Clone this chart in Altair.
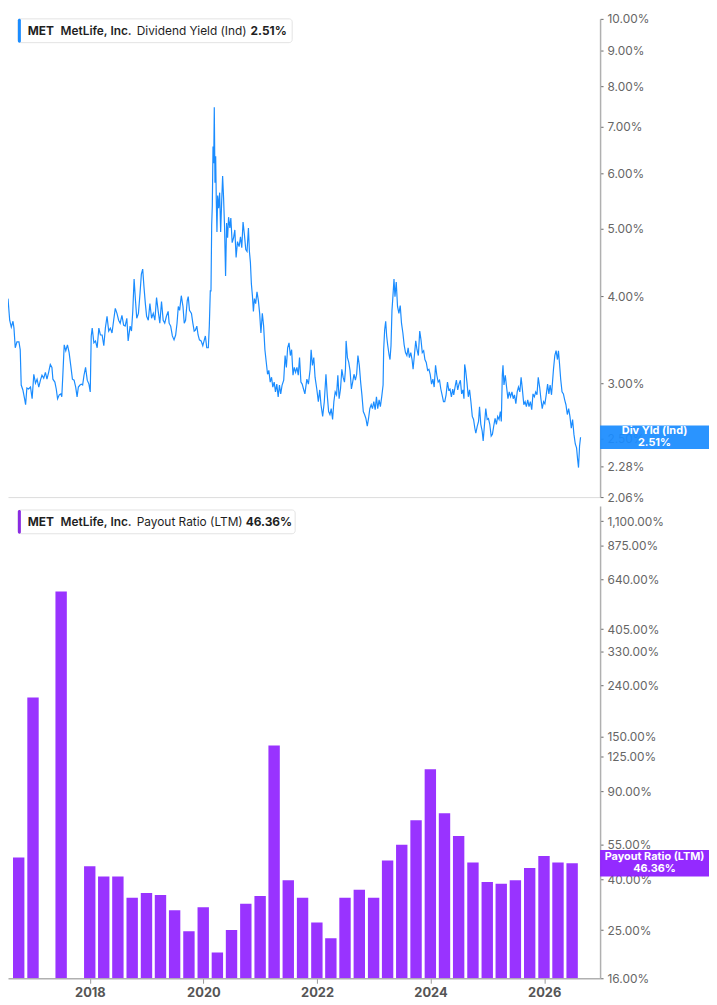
import altair as alt
import pandas as pd

# ---- Dividend Yield (Ind), % : decimal year / value ----
div_years = [
    2016.645, 2016.674, 2016.702, 2016.731, 2016.748, 2016.770, 2016.799, 2016.834, 2016.856, 2016.873,
    2016.902, 2016.931, 2016.949, 2016.971, 2017.000, 2017.034, 2017.062, 2017.091, 2017.120, 2017.148,
    2017.177, 2017.206, 2017.233, 2017.263, 2017.292, 2017.319, 2017.348, 2017.377, 2017.405, 2017.422,
    2017.456, 2017.480, 2017.503, 2017.532, 2017.559, 2017.576, 2017.594, 2017.618, 2017.645, 2017.674,
    2017.703, 2017.731, 2017.760, 2017.789, 2017.817, 2017.841, 2017.863, 2017.892, 2017.914, 2017.937,
    2017.961, 2017.988, 2018.017, 2018.046, 2018.069, 2018.086, 2018.103, 2018.132, 2018.160, 2018.189,
    2018.218, 2018.245, 2018.275, 2018.304, 2018.331, 2018.360, 2018.389, 2018.417, 2018.446, 2018.475,
    2018.503, 2018.532, 2018.561, 2018.588, 2018.618, 2018.647, 2018.674, 2018.703, 2018.726, 2018.760,
    2018.784, 2018.806, 2018.829, 2018.853, 2018.875, 2018.904, 2018.931, 2018.955, 2018.978, 2019.000,
    2019.024, 2019.046, 2019.075, 2019.103, 2019.132, 2019.161, 2019.189, 2019.218,
    2019.247, 2019.275, 2019.304, 2019.333, 2019.360, 2019.389, 2019.419, 2019.436, 2019.463, 2019.492,
    2019.521, 2019.549, 2019.573, 2019.595, 2019.618, 2019.647, 2019.676, 2019.698, 2019.721, 2019.750,
    2019.767, 2019.789, 2019.823, 2019.847, 2019.870, 2019.892, 2019.916, 2019.938, 2019.961, 2019.990,
    2020.019, 2020.046, 2020.064, 2020.088, 2020.115, 2020.132, 2020.149, 2020.161, 2020.173, 2020.184,
    2020.196, 2020.208, 2020.218, 2020.230, 2020.242, 2020.252, 2020.264, 2020.276, 2020.293, 2020.311,
    2020.328, 2020.345, 2020.362, 2020.379, 2020.396, 2020.413, 2020.431, 2020.448, 2020.465, 2020.487,
    2020.504, 2020.527, 2020.551, 2020.573, 2020.595, 2020.619, 2020.647, 2020.671, 2020.693, 2020.715,
    2020.739, 2020.762, 2020.784, 2020.808, 2020.825, 2020.842, 2020.859, 2020.877, 2020.894, 2020.911,
    2020.933, 2020.956, 2020.980, 2021.002, 2021.024, 2021.048, 2021.071, 2021.093, 2021.117, 2021.139,
    2021.161, 2021.185, 2021.208, 2021.230, 2021.254, 2021.276, 2021.299, 2021.323, 2021.345, 2021.367,
    2021.391, 2021.419, 2021.443, 2021.465, 2021.487, 2021.511, 2021.534, 2021.556, 2021.580, 2021.602,
    2021.625, 2021.648, 2021.671, 2021.693, 2021.717, 2021.739, 2021.762, 2021.786,
    2021.820, 2021.847, 2021.877, 2021.894, 2021.916, 2021.940, 2021.962, 2021.992, 2022.019, 2022.043,
    2022.065, 2022.094, 2022.122, 2022.151, 2022.173, 2022.197, 2022.220, 2022.242, 2022.266, 2022.288,
    2022.311, 2022.335, 2022.357, 2022.379, 2022.403, 2022.426, 2022.448, 2022.472, 2022.489, 2022.500,
    2022.523, 2022.546, 2022.568, 2022.592, 2022.614, 2022.637, 2022.661, 2022.683, 2022.705, 2022.729,
    2022.752, 2022.774, 2022.798, 2022.820, 2022.843, 2022.867, 2022.889, 2022.911, 2022.935, 2022.957,
    2022.980, 2023.004, 2023.026, 2023.048, 2023.072, 2023.094, 2023.117, 2023.141, 2023.151, 2023.168,
    2023.186, 2023.203, 2023.220, 2023.244, 2023.261, 2023.278, 2023.295, 2023.312, 2023.330, 2023.347,
    2023.369, 2023.391, 2023.415, 2023.438, 2023.460, 2023.484, 2023.506, 2023.529, 2023.553, 2023.575,
    2023.597, 2023.621, 2023.643, 2023.661, 2023.683, 2023.707, 2023.729, 2023.752, 2023.776, 2023.798,
    2023.820, 2023.844, 2023.866, 2023.889, 2023.913, 2023.935, 2023.957, 2023.981, 2024.004, 2024.026,
    2024.050, 2024.072, 2024.095, 2024.119, 2024.141, 2024.163, 2024.187, 2024.209, 2024.232, 2024.256,
    2024.278, 2024.300, 2024.324, 2024.347,
    2024.364, 2024.393, 2024.410, 2024.433, 2024.455, 2024.479, 2024.501, 2024.523, 2024.541, 2024.553,
    2024.570, 2024.592, 2024.616, 2024.638, 2024.661, 2024.685, 2024.707, 2024.729, 2024.746, 2024.770,
    2024.793, 2024.810, 2024.832, 2024.856, 2024.873, 2024.896, 2024.918, 2024.942, 2024.964, 2024.987,
    2025.011, 2025.033, 2025.055, 2025.079, 2025.102, 2025.124, 2025.148, 2025.170, 2025.187, 2025.204,
    2025.216, 2025.233, 2025.256, 2025.278, 2025.302, 2025.324, 2025.347, 2025.371, 2025.393, 2025.415,
    2025.439, 2025.462, 2025.484, 2025.508, 2025.530, 2025.553, 2025.577, 2025.599, 2025.621, 2025.645,
    2025.667, 2025.690, 2025.714, 2025.736, 2025.759, 2025.783, 2025.805, 2025.827, 2025.851, 2025.873,
    2025.896, 2025.920, 2025.942, 2025.965, 2025.989, 2026.011, 2026.033, 2026.057, 2026.074, 2026.091,
    2026.114, 2026.136, 2026.160, 2026.177, 2026.194, 2026.216, 2026.239, 2026.263, 2026.285, 2026.307,
    2026.331, 2026.354, 2026.376, 2026.400, 2026.422, 2026.445, 2026.469, 2026.491, 2026.508, 2026.525,
    2026.543, 2026.560,
]
div_yield = [
    3.968, 3.695, 3.612, 3.683, 3.600, 3.374, 3.440, 3.440, 3.352, 2.983,
    2.935, 2.851, 2.795, 2.954, 2.944, 2.963, 2.851, 3.091, 3.002, 3.041,
    2.963, 3.031, 3.081, 3.051, 3.111, 3.041, 3.111, 3.193, 3.162, 3.041,
    3.012, 2.944, 2.851, 2.888, 2.897, 2.869, 3.081, 3.407, 3.341, 3.407,
    3.320, 3.183, 3.041, 3.031, 2.963, 2.869, 2.963, 2.983, 2.992, 2.983,
    3.081, 3.162, 3.031, 2.992, 2.916, 3.508, 3.600, 3.429, 3.451, 3.374,
    3.600, 3.519, 3.519, 3.396, 3.600, 3.744, 3.565, 3.600, 3.542, 3.695,
    3.842, 3.780, 3.695, 3.659, 3.756, 3.636, 3.624, 3.719, 3.451, 3.624,
    3.565, 3.805, 4.234, 3.943, 3.719, 3.780, 4.033, 4.303, 4.374, 4.126,
    3.904, 3.744, 3.695, 3.904, 3.719, 3.780, 3.695, 3.981,
    3.805, 3.659, 3.930, 3.695, 3.659, 3.744, 3.805, 3.659, 3.624, 3.508,
    3.463, 3.519, 3.659, 3.867, 3.817, 4.007, 3.867, 3.659, 3.695, 3.943,
    3.994, 3.817, 3.780, 3.659, 3.565, 3.577, 3.624, 3.519, 3.463, 3.451,
    3.396, 3.463, 3.508, 3.374, 3.374, 3.624, 4.072, 4.072, 5.061, 5.400,
    6.559, 6.208, 7.468, 5.818, 6.350, 5.524, 4.947, 5.578, 5.348, 5.632,
    4.947, 5.453, 5.951, 5.524, 5.012, 4.275, 5.094, 4.852, 5.194, 5.012,
    5.177, 4.774, 4.852, 4.979, 4.548, 4.790, 4.712, 4.868, 4.697, 5.111,
    4.899, 4.667, 4.637, 5.012, 4.637, 4.474, 4.166, 4.007, 3.805, 3.968,
    3.904, 4.059, 3.943, 3.780, 3.542, 3.780, 3.624, 3.352, 3.214, 3.091,
    3.131, 3.012, 3.061, 2.963, 3.012, 2.916, 2.992, 2.869, 2.983, 2.897,
    2.983, 3.031, 3.288, 3.162, 3.374, 3.429, 3.288, 3.352, 3.081, 3.162,
    3.111, 3.162, 3.081, 3.266, 3.012, 2.992, 2.944, 2.897,
    3.041, 2.992, 3.142, 3.352, 3.183, 3.266, 3.061, 2.944, 2.823, 2.935,
    2.795, 2.689, 2.823, 3.091, 2.888, 2.733, 2.706, 2.759, 2.662, 2.823,
    2.916, 2.888, 3.081, 2.851, 2.944, 3.142, 3.061, 3.012, 3.142, 3.451,
    3.266, 3.214, 3.131, 2.944, 3.012, 3.091, 3.031, 3.091, 3.288, 3.183,
    3.012, 2.888, 2.733, 2.706, 2.671, 2.603, 2.671, 2.759, 2.795, 2.759,
    2.823, 2.750, 2.869, 2.759, 2.841, 2.777, 2.869, 2.983, 3.352, 3.577,
    3.683, 3.508, 3.407, 3.299, 3.245, 3.396, 3.817, 4.007, 4.234, 3.994,
    4.193, 3.867, 3.780, 3.879, 3.659, 3.542, 3.407, 3.320, 3.288, 3.374,
    3.266, 3.320, 3.245, 3.142, 3.288, 3.451, 3.352, 3.288, 3.565, 3.463,
    3.320, 3.341, 3.245, 3.214, 3.131, 3.142, 3.091, 2.992, 3.041, 2.963,
    3.183, 3.081, 3.012, 3.031, 2.944, 2.888, 2.823, 2.823, 2.888, 3.012,
    2.935, 2.944, 2.869, 2.944,
    2.888, 2.983, 3.031, 2.935, 2.992, 3.031, 2.897, 2.935, 2.851, 3.193,
    3.131, 3.012, 2.869, 2.935, 2.823, 2.689, 2.662, 2.586, 2.545, 2.603,
    2.645, 2.777, 2.620, 2.561, 2.479, 2.620, 2.759, 2.662, 2.671, 2.620,
    2.520, 2.536, 2.603, 2.671, 2.620, 2.689, 2.662, 2.733, 2.645, 3.081,
    3.183, 2.983, 3.081, 2.963, 2.851, 2.916, 2.869, 2.916, 2.851, 2.888,
    2.804, 2.916, 2.963, 2.916, 3.061, 2.935, 2.795, 2.823, 2.777, 2.841,
    2.777, 2.823, 2.750, 2.897, 2.869, 2.916, 2.888, 3.061, 2.963, 2.851,
    2.759, 2.823, 2.804, 2.888, 2.992, 2.897, 2.983, 2.888, 3.012, 3.142,
    3.288, 3.341, 3.245, 3.341, 3.214, 3.041, 2.916, 2.897, 2.841, 2.795,
    2.706, 2.759, 2.689, 2.586, 2.662, 2.536, 2.455, 2.424, 2.339, 2.271,
    2.439, 2.510,
]

# ---- Payout Ratio (LTM), % : quarterly ----
payout_quarters = [
    "2016-09-30", "2016-12-31", "2017-03-31", "2017-06-30", "2017-09-30", "2017-12-31",
    "2018-03-31", "2018-06-30", "2018-09-30", "2018-12-31",
    "2019-03-31", "2019-06-30", "2019-09-30", "2019-12-31",
    "2020-03-31", "2020-06-30", "2020-09-30", "2020-12-31",
    "2021-03-31", "2021-06-30", "2021-09-30", "2021-12-31",
    "2022-03-31", "2022-06-30", "2022-09-30", "2022-12-31",
    "2023-03-31", "2023-06-30", "2023-09-30", "2023-12-31",
    "2024-03-31", "2024-06-30", "2024-09-30", "2024-12-31",
    "2025-03-31", "2025-06-30", "2025-09-30", "2025-12-31",
    "2026-03-31", "2026-06-30",
]
payout_ratio = [
    48.9, 215.0, None, 574.0, None, 45.1,
    41.0, 41.0, 33.7, 35.2,
    34.6, 30.0, 24.7, 30.9,
    20.3, 25.0, 31.9, 34.3,
    137.8, 39.6, 33.7, 26.8,
    23.2, 33.7, 36.3, 33.7,
    47.6, 55.0, 69.0, 110.8,
    73.6, 59.7, 46.7, 39.0,
    38.4, 39.6, 44.4, 49.6,
    46.7, 46.36,
]

yield_ticks = [2.06, 2.28, 2.5, 3, 4, 5, 6, 7, 8, 9, 10]
payout_ticks = [16, 25, 40, 55, 90, 125, 150, 240, 330, 405, 640, 875, 1100]
year_ticks = [2018, 2020, 2022, 2024, 2026]

last_yield = 2.51
last_payout = 46.36

BLUE = "#1a8cff"
PURPLE = "#9933ff"
PURPLE_DARK = "#8c1aff"
FONT = "Inter"


def dec_year(d):
    y = int(d)
    s = pd.Timestamp(year=y, month=1, day=1)
    e = pd.Timestamp(year=y + 1, month=1, day=1)
    return (s + (e - s) * (d - y)).strftime("%Y-%m-%dT%H:%M:%S")


line_df = pd.DataFrame({"date": [dec_year(v) for v in div_years], "dy": div_yield})
bar_df = pd.DataFrame({"date": [q + "T00:00:00" for q in payout_quarters], "pr": payout_ratio}).dropna()
one = pd.DataFrame({"k": [0]})

x_domain = [alt.DateTime(year=2016, month=8, date=24), alt.DateTime(year=2026, month=11, date=25)]
W = 598
H_TOP = 483
H_BOT = 477

y_axis_common = dict(
    orient="right", title=None, grid=False, tickSize=3, tickColor="#666666",
    domainColor="#b0b0b0", domainWidth=1.5, labelColor="#666666", labelFontSize=12,
    labelFont=FONT, labelPadding=4, labelOverlap=False, zindex=0,
)


def legend_layers(metric, value, color, box_right, value_x, top_y):
    mid = top_y + 12.5
    box = alt.Chart(one).mark_rect(fill="white", stroke="#e3e3e3", strokeWidth=1, cornerRadius=3).encode(
        x=alt.value(10), x2=alt.value(box_right), y=alt.value(top_y), y2=alt.value(top_y + 24))
    stripe = alt.Chart(one).mark_rect(fill=color, cornerRadius=1.5).encode(
        x=alt.value(10), x2=alt.value(13), y=alt.value(top_y), y2=alt.value(top_y + 24))
    layers = [box, stripe]
    for txt, xx, wt in [("MET", 20, 700), ("MetLife, Inc.", 53, 600), (metric, 130, 400), (value, value_x, 700)]:
        layers.append(
            alt.Chart(one).mark_text(text=txt, align="left", baseline="middle", font=FONT, fontSize=12,
                                     fontWeight=wt, color="#1f1f1f").encode(x=alt.value(xx), y=alt.value(mid))
        )
    return layers


def value_label(top_val, bot_val, mid_val, line1, line2, color):
    box = alt.Chart(one).mark_rect(color=color, opacity=0.93).encode(
        x=alt.value(W), x2=alt.value(W + 110), y=alt.datum(top_val), y2=alt.datum(bot_val))
    t1 = alt.Chart(one).mark_text(text=line1, align="center", baseline="middle", dy=-6, font=FONT,
                                  fontSize=11, fontWeight="bold", color="white").encode(
        x=alt.value(W + 55), y=alt.datum(mid_val))
    t2 = alt.Chart(one).mark_text(text=line2, align="center", baseline="middle", dy=6, font=FONT,
                                  fontSize=11, fontWeight="bold", color="white").encode(
        x=alt.value(W + 55), y=alt.datum(mid_val))
    return [box, t1, t2]


# ---------------- top panel: dividend yield ----------------
line = alt.Chart(line_df).mark_line(color=BLUE, strokeWidth=1.2, clip=True).encode(
    x=alt.X("date:T", scale=alt.Scale(domain=x_domain),
            axis=alt.Axis(labels=False, ticks=False, domainColor="#dcdcdc", domainWidth=1, title=None, grid=False)),
    y=alt.Y("dy:Q", scale=alt.Scale(type="log", domain=[2.06, 10], nice=False, zero=False),
            axis=alt.Axis(values=yield_ticks, labelExpr="format(datum.value, '.2f') + '%'", **y_axis_common)),
)

top = alt.layer(
    line,
    *legend_layers("Dividend Yield (Ind)", f"{last_yield:.2f}%", BLUE, 287, 245, 0),
    *value_label(2.61, 2.414, last_yield, "Div Yld (Ind)", f"{last_yield:.2f}%", BLUE),
).properties(width=W, height=H_TOP)

# ---------------- bottom panel: payout ratio ----------------
bars = alt.Chart(bar_df).mark_bar(color=PURPLE, size=11.5, clip=True).encode(
    x=alt.X("date:T", scale=alt.Scale(domain=x_domain),
            axis=alt.Axis(values=[alt.DateTime(year=y, month=1, date=1) for y in year_ticks], format="%Y",
                          labelFontWeight="bold", labelColor="#555555", labelFontSize=13, labelFont=FONT,
                          tickSize=5, tickColor="#999999", domainColor="#b0b0b0", domainWidth=1.5,
                          title=None, grid=False, labelPadding=3)),
    y=alt.Y("pr:Q", scale=alt.Scale(type="log", domain=[16, 1265], nice=False, zero=False),
            axis=alt.Axis(values=payout_ticks, labelExpr="format(datum.value, ',.2f') + '%'", **y_axis_common)),
    y2=alt.datum(16),
)

bottom = alt.layer(
    bars,
    *legend_layers("Payout Ratio (LTM)", f"{last_payout:.2f}%", "#8a2be2", 290, 240, 4),
    *value_label(52.41, 41.01, last_payout, "Payout Ratio (LTM)", f"{last_payout:.2f}%", PURPLE_DARK),
).properties(width=W, height=H_BOT)

chart = alt.vconcat(top, bottom, spacing=3).properties(padding=0).configure_view(stroke=None)

chart.save("out.html", embed_options={"renderer": "svg", "actions": False})
